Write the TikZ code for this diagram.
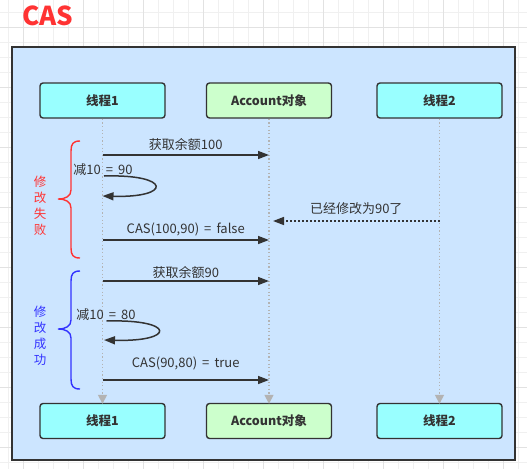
\documentclass[tikz,border=0pt]{standalone}
\usepackage{fontspec}
\newfontfamily\cjk{Noto Sans CJK SC}
\usetikzlibrary{arrows.meta,positioning}

\definecolor{panelblue}{RGB}{204,229,255}
\definecolor{threadcyan}{RGB}{153,255,255}
\definecolor{objgreen}{RGB}{204,255,204}
\definecolor{inkgray}{RGB}{51,51,51}
\definecolor{lifegray}{RGB}{179,179,179}
\definecolor{failred}{RGB}{255,51,51}
\definecolor{okblue}{RGB}{51,51,255}
\definecolor{gridminor}{RGB}{240,240,240}
\definecolor{gridmajor}{RGB}{226,226,226}

\tikzset{
  actor/.style={draw=inkgray,line width=1.4pt,rounded corners=3pt,
    minimum width=125pt,minimum height=35pt,text=inkgray,
    font=\cjk\bfseries\fontsize{12.5}{14}\selectfont},
  lifeline/.style={lifegray,line width=1.6pt,dash pattern=on 1.2pt off 2.4pt,
    -{Triangle[length=9pt,width=9pt]}},
  msg/.style={inkgray,line width=1.5pt,-{Triangle[length=11pt,width=8pt]}},
  reply/.style={msg,dash pattern=on 1.6pt off 2.4pt},
  lbl/.style={text=inkgray,inner sep=1pt}
}

\begin{document}
\begin{tikzpicture}[x=1pt,y=-1pt,font=\cjk\fontsize{13}{15}\selectfont]
\useasboundingbox (0,0) rectangle (527,469);

% ---- paper grid ----
\foreach \x in {8,23,...,527} \draw[gridminor] (\x,0) -- (\x,469);
\foreach \y in {12,27,...,469} \draw[gridminor] (0,\y) -- (527,\y);
\foreach \x in {23,83,...,527} \draw[gridmajor] (\x,0) -- (\x,469);
\foreach \y in {27,87,...,469} \draw[gridmajor] (0,\y) -- (527,\y);

\node[text=failred,font=\cjk\bfseries\fontsize{26}{28}\selectfont] (title) at (48,16) {CAS};

% ---- panel ----
\draw[fill=panelblue,draw=inkgray,line width=1.6pt] (12,47) rectangle (515,460);

% ---- actors, top and bottom ----
\def\xA{102.5}
\def\xB{269}
\def\xC{439.5}
\node[actor,fill=threadcyan] (t1)  at (\xA,100.5) {线程1};
\node[actor,fill=objgreen]   (acc) at (\xB,100.5) {Account对象};
\node[actor,fill=threadcyan] (t2)  at (\xC,100.5) {线程2};
\node[actor,fill=threadcyan] (t1b)  at (\xA,421) {线程1};
\node[actor,fill=objgreen]   (accb) at (\xB,421) {Account对象};
\node[actor,fill=threadcyan] (t2b)  at (\xC,421) {线程2};

\draw[lifeline] (t1.south)  -- ([yshift=-1pt]t1b.north);
\draw[lifeline] (acc.south) -- ([yshift=-1pt]accb.north);
\draw[lifeline] (t2.south)  -- ([yshift=-1pt]t2b.north);

% ---- first try: fails ----
\coordinate (get1a) at (\xA,155);   \coordinate (get1b) at (\xB,155);
\coordinate (sub1a) at (\xA+1.5,176); \coordinate (sub1b) at (\xA,196);
\coordinate (cas1a) at (\xA,240);   \coordinate (cas1b) at (\xB,240);
\coordinate (upd2a) at (\xC,221);   \coordinate (upd2b) at (\xB+4,221);

\draw[msg] (get1a) -- node[lbl,above=3pt] {获取余额100} (get1b);
\draw[msg] (sub1a) .. controls (172,174) and (172,198) .. (sub1b);
\node[lbl] (sub1) at (103,170) {减10\ \,=\ \,90};
\draw[msg] (cas1a) -- node[lbl,above=2pt] {CAS(100,90)\ \,=\ \,false} (cas1b);
\draw[reply] (upd2a) -- node[lbl,above=5pt] {已经修改为90了} (upd2b);

% ---- second try: succeeds ----
\coordinate (get2a) at (\xA,281);   \coordinate (get2b) at (\xB,281);
\coordinate (sub2a) at (\xA+4,321); \coordinate (sub2b) at (\xA+1.5,340);
\coordinate (cas2a) at (\xA,380);   \coordinate (cas2b) at (\xB,380);

\draw[msg] (get2a) -- node[lbl,above=1pt] {获取余额90} (get2b);
\draw[msg] (sub2a) .. controls (176,319) and (176,342) .. (sub2b);
\node[lbl] (sub2) at (106,315) {减10\ \,=\ \,80};
\draw[msg] (cas2a) -- node[lbl,above=8pt] {CAS(90,80)\ \,=\ \,true} (cas2b);

% ---- braces ----
\draw[failred,line width=1.4pt] (80,141) .. controls (73,141) and (71,144) .. (71,151)
  -- (71,190) .. controls (71,196) and (66,199) .. (58,199)
  .. controls (66,199) and (71,202) .. (71,208)
  -- (71,248) .. controls (71,255) and (73,258) .. (80,258);
\draw[okblue,line width=1.4pt] (80,271) .. controls (73,271) and (71,274) .. (71,281)
  -- (71,320) .. controls (71,326) and (66,329) .. (58,329)
  .. controls (66,329) and (71,332) .. (71,338)
  -- (71,379) .. controls (71,386) and (73,389) .. (80,389);
\node[text=failred,align=center,font=\cjk\fontsize{12.5}{16}\selectfont] (fail) at (40,206) {修\\改\\失\\败};
\node[text=okblue,align=center,font=\cjk\fontsize{12.5}{16}\selectfont] (ok) at (40,336) {修\\改\\成\\功};

\end{tikzpicture}
\end{document}
